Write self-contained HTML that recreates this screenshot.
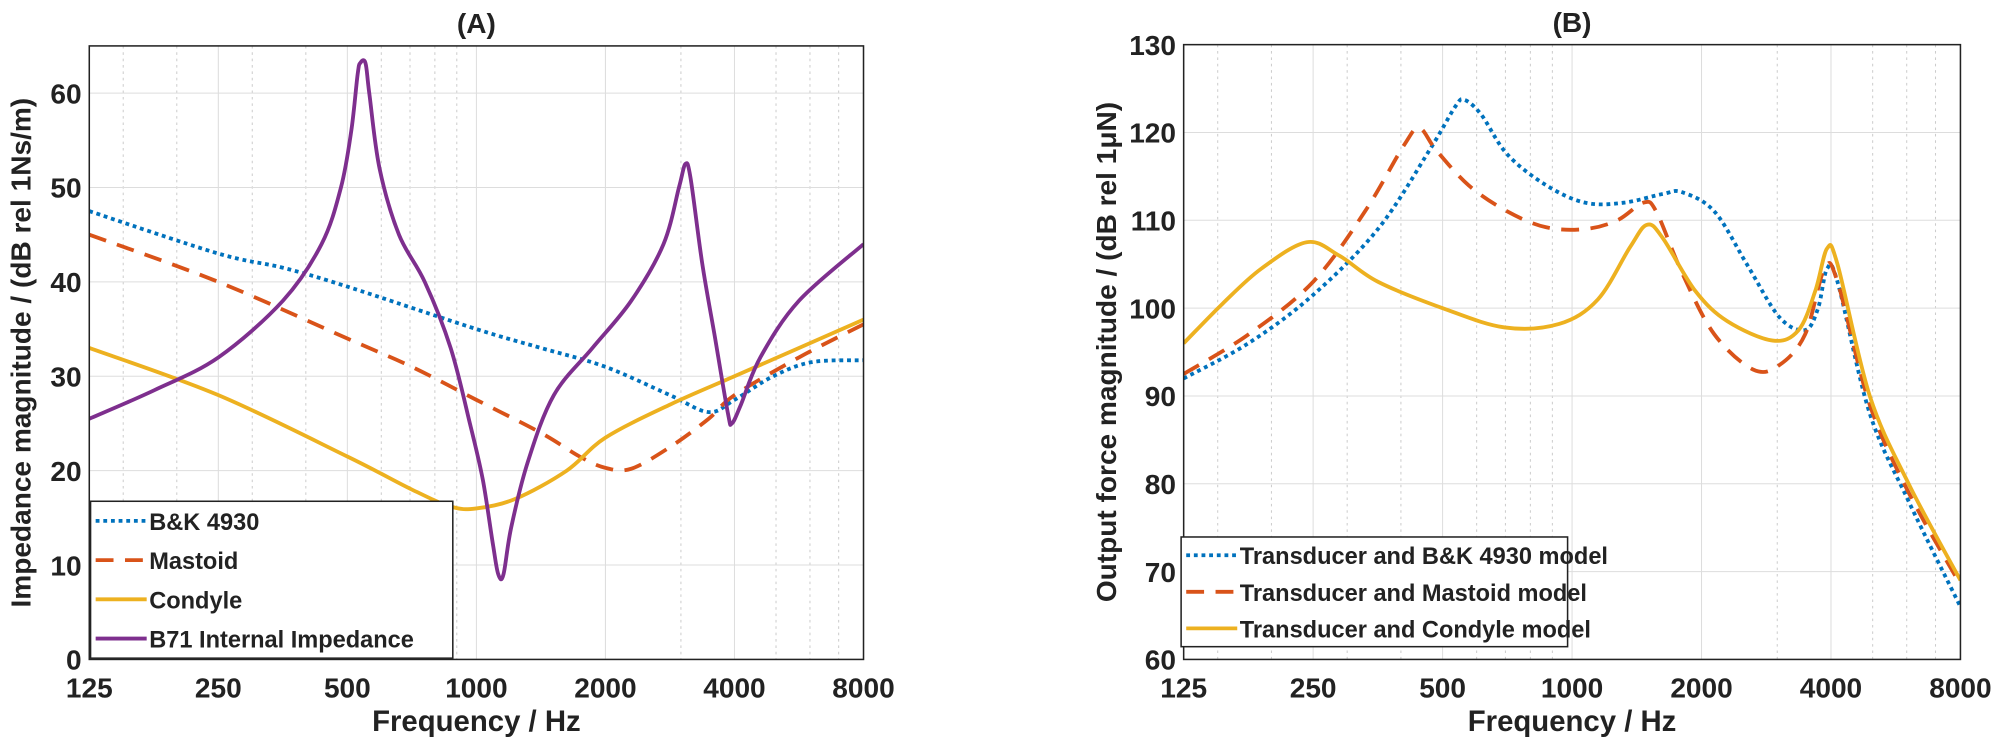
<!DOCTYPE html>
<html><head><meta charset="utf-8"><style>
body{margin:0;background:#fff;width:2001px;height:740px;overflow:hidden}
svg text{font-family:"Liberation Sans",Arial,sans-serif;font-weight:bold;fill:#222}
</style></head><body>
<svg width="2001" height="740" xmlns="http://www.w3.org/2000/svg"><g id="s" transform="scale(1.2755)"></g></svg>
<script>
const S=document.getElementById('s');let h='';
function cr(pts){let d='M'+pts[0][0].toFixed(1)+','+pts[0][1].toFixed(1);
for(let i=0;i<pts.length-1;i++){const p0=pts[Math.max(0,i-1)],p1=pts[i],p2=pts[i+1],p3=pts[Math.min(pts.length-1,i+2)];
const c1=[p1[0]+(p2[0]-p0[0])/6,p1[1]+(p2[1]-p0[1])/6],c2=[p2[0]-(p3[0]-p1[0])/6,p2[1]-(p3[1]-p1[1])/6];
d+=`C${c1[0].toFixed(1)},${c1[1].toFixed(1)} ${c2[0].toFixed(1)},${c2[1].toFixed(1)} ${p2[0].toFixed(1)},${p2[1].toFixed(1)}`;}return d;}
function axes(x0,x1,y0,y1,vmin,vmax,step,ylabel,title,series,leg,ylx){
 const X=u=>x0+(x1-x0)*u/6, Y=v=>y1-(v-vmin)/(vmax-vmin)*(y1-y0);
 const minors=[];for(const dec of [100,1000]){for(let k=2;k<=9;k++){const f=dec*k;const u=Math.log2(f/125);if(u>0&&u<6&&![250,500,1000,2000,4000,8000].includes(f))minors.push(u);}}
 minors.push(Math.log2(150/125));
 for(const u of minors)h+=`<line x1="${X(u)}" x2="${X(u)}" y1="${y0}" y2="${y1}" stroke="#ccc" stroke-width="0.8" stroke-dasharray="2,3"/>`;
 const lab=[125,250,500,1000,2000,4000,8000];
 lab.forEach((f,i)=>{h+=`<line x1="${X(i)}" x2="${X(i)}" y1="${y0}" y2="${y1}" stroke="#ddd" stroke-width="0.8"/>`;
 h+=`<text x="${X(i)}" y="${y1+30}" font-size="22" text-anchor="middle">${f}</text>`;});
 for(let v=vmin;v<=vmax;v+=step){h+=`<line x1="${x0}" x2="${x1}" y1="${Y(v)}" y2="${Y(v)}" stroke="#ddd" stroke-width="0.8"/>`;
 h+=`<text x="${x0-6}" y="${Y(v)+8}" font-size="22" text-anchor="end">${v}</text>`;}
 const cl=`cl${x0}`;h+=`<clipPath id="${cl}"><rect x="${x0}" y="${y0}" width="${x1-x0}" height="${y1-y0}"/></clipPath>`;
 for(const s of series){h+=`<path d="${cr(s.p.map(q=>[X(q[0]),Y(q[1])]))}" fill="none" stroke="${s.c}" stroke-width="3" ${s.d?'stroke-dasharray="'+s.d+'"':''} clip-path="url(#${cl})"/>`;}
 h+=`<rect x="${x0}" y="${y0}" width="${x1-x0}" height="${y1-y0}" fill="none" stroke="#222" stroke-width="1.2"/>`;
 h+=`<text x="${(x0+x1)/2}" y="${y1+56}" font-size="23" text-anchor="middle">Frequency / Hz</text>`;
 h+=`<text transform="translate(${ylx},${(y0+y1)/2}) rotate(-90)" font-size="22" text-anchor="middle">${ylabel}</text>`;
 h+=`<text x="${(x0+x1)/2}" y="${y0-10}" font-size="22" text-anchor="middle">${title}</text>`;
 h+=`<rect x="${leg.x}" y="${leg.y}" width="${leg.w}" height="${leg.h}" fill="#fff" stroke="#222" stroke-width="1.2"/>`;
 series.forEach((s,i)=>{const yy=leg.y+leg.h/series.length*(i+0.5);
 h+=`<line x1="${leg.x+4}" x2="${leg.x+44}" y1="${yy}" y2="${yy}" stroke="${s.c}" stroke-width="3" ${s.d?'stroke-dasharray="'+s.d+'"':''}/>`;
 h+=`<text x="${leg.x+46}" y="${yy+7}" font-size="18.5">${s.n}</text>`;});
}
const B='#0072BD',R='#D95319',Yc='#EDB120',P='#7E2F8E';
axes(70,677,36,517,0,65,10,'Impedance magnitude / (dB rel 1Ns/m)','(A)',[
{n:'B&amp;K 4930',c:B,d:'3,3',p:[[0,47.5],[1,43],[1.5,41.5],[2,39.5],[3,35],[3.5,33],[4,31],[4.5,28],[4.8,26.2],[5,27.5],[5.3,30],[5.6,31.5],[6,31.7]]},
{n:'Mastoid',c:R,d:'14,9',p:[[0,45],[1,40],[2,34],[2.5,31],[3,27.5],[3.5,24],[3.8,21.5],[4,20.3],[4.2,20.2],[4.5,22.5],[4.8,25.5],[5,28],[5.5,32],[6,35.5]]},
{n:'Condyle',c:Yc,p:[[0,33],[1,28],[2,21.5],[2.5,18],[2.8,16.2],[3,16],[3.3,17],[3.7,20],[4,23.5],[4.5,27],[5,30],[5.5,33],[6,36]]},
{n:'B71 Internal Impedance',c:P,p:[[0,25.5],[0.5,28.5],[1,32],[1.5,38],[1.8,44],[1.95,50],[2.03,56],[2.08,62],[2.1,63.2],[2.14,63.2],[2.17,60],[2.25,52],[2.4,45],[2.6,40],[2.8,33],[2.95,25],[3.05,19],[3.13,12],[3.17,9],[3.21,9],[3.27,14],[3.4,21],[3.6,28],[3.9,33],[4.2,38],[4.45,44],[4.57,50],[4.62,52.5],[4.66,51],[4.75,42],[4.85,34],[4.95,26],[4.98,25],[5.05,27],[5.2,32],[5.5,38],[6,44]]}
],{x:71,y:393,w:284,h:123},24);
axes(928,1537,35,517,60,130,10,'Output force magnitude / (dB rel 1μN)','(B)',[
{n:'Transducer and B&amp;K 4930 model',c:B,d:'3,3',p:[[0,92],[0.5,96],[1,101.5],[1.5,109],[1.9,118],[2.1,123],[2.17,123.7],[2.3,122],[2.5,117.5],[2.8,114],[3.1,112],[3.4,112],[3.7,113],[3.85,113.2],[4.1,111],[4.35,105],[4.6,99],[4.8,97.5],[4.9,100],[4.97,104.5],[5.05,103],[5.3,88],[5.6,78],[6,66]]},
{n:'Transducer and Mastoid model',c:R,d:'14,9',p:[[0,92.5],[0.5,97],[1,103],[1.4,111],[1.7,118.5],[1.82,120.5],[1.95,118],[2.2,114],[2.5,111],[2.8,109.2],[3.1,109],[3.35,110],[3.55,112],[3.65,111],[3.85,104],[4.1,97],[4.4,93],[4.6,93.5],[4.8,97],[4.95,104.5],[5.05,103],[5.3,89],[5.6,79],[6,68.5]]},
{n:'Transducer and Condyle model',c:Yc,p:[[0,96],[0.3,100.5],[0.6,104.5],[0.95,107.5],[1.2,106],[1.5,103],[2,100],[2.48,97.8],[2.9,98.2],[3.2,101],[3.45,107],[3.58,109.5],[3.7,108],[3.95,102],[4.2,98.5],[4.55,96.3],[4.75,97.5],[4.88,102],[4.97,106.8],[5.05,105],[5.3,90],[5.6,80],[6,69]]}
],{x:926,y:421,w:303,h:86},875);
S.innerHTML=h;
</script>
</body></html>
